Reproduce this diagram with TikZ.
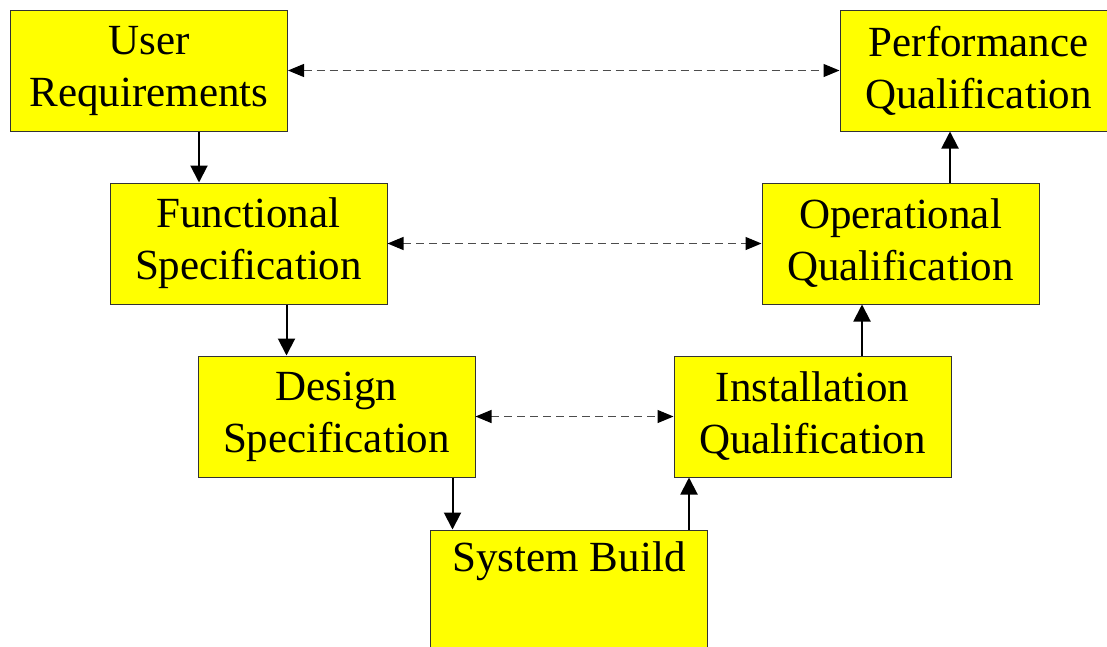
\documentclass[tikz,border=0pt]{standalone}
\usepackage{fontspec}
\setmainfont{Liberation Serif}
\usetikzlibrary{arrows.meta, positioning}
\definecolor{boxyellow}{RGB}{255,255,0}

\begin{document}
\begin{tikzpicture}[
    x=1pt, y=-1pt,
    box/.style={rectangle, minimum width=277pt, minimum height=121pt, inner sep=0pt, align=center, draw=black!80, line width=1pt, fill=boxyellow, font=\fontsize{43}{52}\selectfont},
    arrow/.style={-{Triangle[length=17pt, width=17pt]}, line width=2pt},
    dasharrow/.style={{Triangle[length=16pt, width=13pt, color=black]}-{Triangle[length=16pt, width=13pt, color=black]}, draw=black!70, line width=1.2pt, dash pattern=on 8pt off 5pt}
]
\path[use as bounding box, clip] (0,0) rectangle (1107,646);

% Left leg
\node[box] (userreq) at (149,70.5) {User\\Requirements};
\node[box] (funcspec) at (248.5,243.5) {Functional\\Specification};
\node[box] (designspec) at (336.5,416.5) {Design\\Specification};

% Bottom
\node[box] (sysbuild) at (569,590.5) {System Build\\\strut};

% Right leg
\node[box] (instqual) at (812.5,416.5) {Installation\\Qualification};
\node[box] (opqual) at (900.5,243.5) {Operational\\Qualification};
\node[box] (perfqual) at (978.5,70.5) {Performance\\Qualification};

% Arrows
\draw[arrow] ([xshift=50pt]userreq.south) -- ([xshift=50pt]userreq.south |- funcspec.north);
\draw[arrow] ([xshift=38pt]funcspec.south) -- ([xshift=38pt]funcspec.south |- designspec.north);
\draw[arrow] ([xshift=116pt]designspec.south) -- ([xshift=116pt]designspec.south |- sysbuild.north);
\draw[arrow] ([xshift=120pt]sysbuild.north) -- ([xshift=120pt]sysbuild.north |- instqual.south);
\draw[arrow] ([xshift=49.5pt]instqual.north) -- ([xshift=49.5pt]instqual.north |- opqual.south);
\draw[arrow] ([xshift=49.5pt]opqual.north) -- ([xshift=49.5pt]opqual.north |- perfqual.south);

% Dashed links
\draw[dasharrow] (userreq.east) -- (perfqual.west);
\draw[dasharrow] (funcspec.east) -- (opqual.west);
\draw[dasharrow] (designspec.east) -- (instqual.west);

\end{tikzpicture}
\end{document}
